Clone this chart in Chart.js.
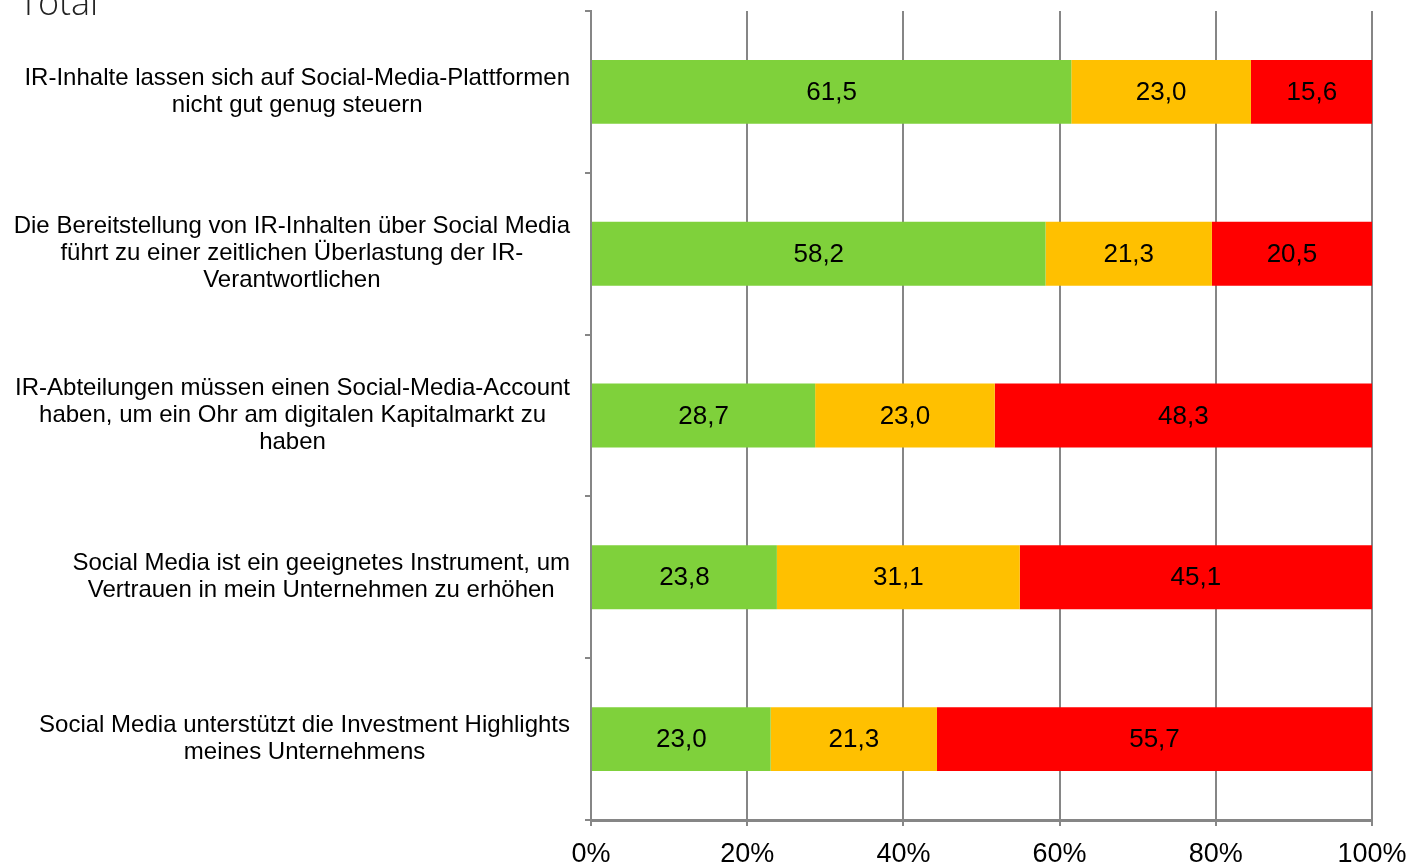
<!DOCTYPE html>
<html>
<head>
<meta charset="utf-8">
<title>Total</title>
<script src="https://cdn.jsdelivr.net/npm/chart.js@4/dist/chart.umd.min.js"></script>
<style>
	html, body { margin: 0; padding: 0; background: #fff; }
	#wrap { width: 1412px; height: 866px; position: relative; }
</style>
</head>
<body>
<div id="wrap"><canvas id="chart" width="1412" height="866"></canvas></div>
<script>
// category labels, already broken into lines as in the picture
const categories = [
	['IR-Inhalte lassen sich auf Social-Media-Plattformen', 'nicht gut genug steuern'],
	['Die Bereitstellung von IR-Inhalten über Social Media', 'führt zu einer zeitlichen Überlastung der IR-', 'Verantwortlichen'],
	['IR-Abteilungen müssen einen Social-Media-Account', 'haben, um ein Ohr am digitalen Kapitalmarkt zu', 'haben'],
	['Social Media ist ein geeignetes Instrument, um', 'Vertrauen in mein Unternehmen zu erhöhen'],
	['Social Media unterstützt die Investment Highlights', 'meines Unternehmens']
];
const greenValues = [61.5, 58.2, 28.7, 23.8, 23.0];
const orangeValues = [23.0, 21.3, 23.0, 31.1, 21.3];
const redValues = [15.6, 20.5, 48.3, 45.1, 55.7];
const xTicks = [0, 20, 40, 60, 80, 100];
const titleText = 'Total';

const axisGray = '#868686';
const labelFont = '"Liberation Sans", Arial, sans-serif';

function fmt(v) {
	return v.toFixed(1).replace('.', ',');
}

// title, partly cut off at the top edge
const titlePlugin = {
	id: 'titleText',
	afterDraw: function (chart) {
		const ctx = chart.ctx;
		ctx.save();
		ctx.font = '300 36px "Open Sans", sans-serif';
		ctx.fillStyle = '#222';
		ctx.textAlign = 'left';
		ctx.textBaseline = 'alphabetic';
		ctx.fillText(titleText, 19, 15);
		ctx.restore();
	}
};

// category labels, each centred on its own widest line
const catLabelPlugin = {
	id: 'catLabels',
	afterDraw: function (chart) {
		const ctx = chart.ctx;
		const yScale = chart.scales.y;
		const rightEdge = yScale.right - 21;
		const lineH = 27;
		ctx.save();
		ctx.font = '24px ' + labelFont;
		ctx.fillStyle = '#000';
		ctx.textAlign = 'center';
		ctx.textBaseline = 'middle';
		categories.forEach(function (lines, i) {
			const y = yScale.getPixelForValue(i);
			let widest = 0;
			lines.forEach(function (l) {
				widest = Math.max(widest, ctx.measureText(l).width);
			});
			const cx = rightEdge - widest / 2;
			lines.forEach(function (l, j) {
				ctx.fillText(l, cx, y + (j - (lines.length - 1) / 2) * lineH);
			});
		});
		ctx.restore();
	}
};

// values in the middle of each segment
const valueLabelPlugin = {
	id: 'valueLabels',
	afterDatasetsDraw: function (chart) {
		const ctx = chart.ctx;
		ctx.save();
		ctx.font = '26px ' + labelFont;
		ctx.fillStyle = '#000';
		ctx.textAlign = 'center';
		ctx.textBaseline = 'middle';
		chart.data.datasets.forEach(function (ds, di) {
			const meta = chart.getDatasetMeta(di);
			meta.data.forEach(function (bar, i) {
				const cx = (bar.x + bar.base) / 2;
				ctx.fillText(fmt(ds.data[i]), cx, bar.y + 1);
			});
		});
		ctx.restore();
	}
};

const ctx = document.getElementById('chart').getContext('2d');
const chart = new Chart(ctx, {
	type: 'bar',
	data: {
		labels: categories.map(function (c) { return c.join(' '); }),
		datasets: [{
			data: greenValues,
			backgroundColor: '#7fd13b'
		}, {
			data: orangeValues,
			backgroundColor: '#ffc000'
		}, {
			data: redValues,
			backgroundColor: '#ff0000'
		}]
	},
	options: {
		indexAxis: 'y',
		responsive: false,
		animation: false,
		events: [],
		layout: {
			padding: { left: 0, right: 40, top: 11, bottom: 0 }
		},
		datasets: {
			bar: {
				categoryPercentage: 1,
				barPercentage: 0.395,
				borderWidth: 0
			}
		},
		plugins: {
			legend: { display: false },
			tooltip: { enabled: false }
		},
		scales: {
			x: {
				stacked: true,
				min: 0,
				max: 100,
				afterFit: function (scale) {
					scale.height = 46;
					scale.paddingLeft = 0;
					scale.paddingRight = 0;
				},
				afterBuildTicks: function (scale) {
					scale.ticks = xTicks.map(function (v) { return { value: v }; });
				},
				grid: {
					color: axisGray,
					lineWidth: 2,
					tickLength: 6
				},
				border: { color: axisGray, width: 3 },
				ticks: {
					padding: 12,
					color: '#000',
					font: { family: labelFont, size: 27 },
					callback: function (v) { return v + '%'; }
				}
			},
			y: {
				stacked: true,
				afterFit: function (scale) { scale.width = 591; },
				grid: {
					offset: true,
					drawOnChartArea: false,
					color: axisGray,
					lineWidth: 2,
					tickLength: 6
				},
				border: { color: axisGray, width: 2 },
				ticks: { display: false }
			}
		}
	},
	plugins: [titlePlugin, catLabelPlugin, valueLabelPlugin]
});
</script>
</body>
</html>
